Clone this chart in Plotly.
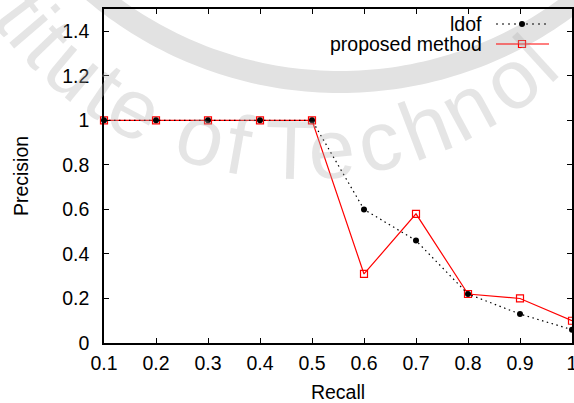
import math
import plotly.graph_objects as go

# Precision / recall values for the two methods
recall = [0.1, 0.2, 0.3, 0.4, 0.5, 0.6, 0.7, 0.8, 0.9, 1.0]
ldof = [1.0, 1.0, 1.0, 1.0, 1.0, 0.60, 0.46, 0.22, 0.13, 0.06]
proposed = [1.0, 1.0, 1.0, 1.0, 1.0, 0.31, 0.58, 0.22, 0.20, 0.10]

series_names = ["ldof", "proposed method"]

x_tickvals = [0.1, 0.2, 0.3, 0.4, 0.5, 0.6, 0.7, 0.8, 0.9, 1.0]
x_ticktext = ["0.1", "0.2", "0.3", "0.4", "0.5", "0.6", "0.7", "0.8", "0.9", "1"]
y_tickvals = [0, 0.2, 0.4, 0.6, 0.8, 1.0, 1.2, 1.4]
y_ticktext = ["0", "0.2", "0.4", "0.6", "0.8", "1", "1.2", "1.4"]

W, H = 574, 403
L, R, T, B = 104, 572, 9, 343
FONT = "Liberation Sans, Arial, sans-serif"
FS = 19.5


def px(x):
    return (x - L) / (R - L)


def py(y):
    return (B - y) / (B - T)


fig = go.Figure()

# data series
fig.add_trace(go.Scatter(
    x=recall, y=proposed, mode="lines+markers", name=series_names[1],
    line=dict(color="#ff0000", width=1.2),
    marker=dict(symbol="square-open", size=7, color="#ff0000",
                line=dict(width=1.2, color="#ff0000")),
    showlegend=False, cliponaxis=False,
))
fig.add_trace(go.Scatter(
    x=recall, y=ldof, mode="lines+markers", name=series_names[0],
    line=dict(color="#000000", width=1.2, dash="1.5px,3.5px"),
    marker=dict(symbol="circle", size=6, color="#000000"),
    showlegend=False, cliponaxis=False,
))

# key samples, drawn on an overlay axis spanning the plot area in [0, 1]
key_x0, key_x1, key_xm = px(496), px(549), px(522)
key_y = [py(24), py(44)]
fig.add_trace(go.Scatter(
    x=[key_x0, key_x1], y=[key_y[0]] * 2, mode="lines",
    line=dict(color="#000000", width=1.2, dash="2px,4px"),
    xaxis="x2", yaxis="y2", showlegend=False, hoverinfo="skip",
))
fig.add_trace(go.Scatter(
    x=[key_xm], y=[key_y[0]], mode="markers",
    marker=dict(symbol="circle", size=6, color="#000000"),
    xaxis="x2", yaxis="y2", showlegend=False, hoverinfo="skip",
))
fig.add_trace(go.Scatter(
    x=[key_x0, key_x1], y=[key_y[1]] * 2, mode="lines",
    line=dict(color="#ff0000", width=1.2),
    xaxis="x2", yaxis="y2", showlegend=False, hoverinfo="skip",
))
fig.add_trace(go.Scatter(
    x=[key_xm], y=[key_y[1]], mode="markers",
    marker=dict(symbol="square-open", size=7, color="#ff0000",
                line=dict(width=1.2, color="#ff0000")),
    xaxis="x2", yaxis="y2", showlegend=False, hoverinfo="skip",
))

annotations = []
for name, yk in zip(series_names, key_y):
    annotations.append(dict(
        text=name, xref="paper", yref="paper", x=px(484), y=yk,
        xanchor="right", yanchor="middle", showarrow=False,
        font=dict(family=FONT, size=FS, color="#000000"),
    ))

# watermark: faint lettering on an arc, plus a broad arc band
wm_cx, wm_cy, wm_r = 300, -200, 350
wm_letters = [("t", -53), ("i", -49.5), ("t", -46), ("u", -40), ("t", -34),
              ("e", -28), ("o", -16.4), ("f", -10),
              ("T", -1.5), ("e", 5.2), ("c", 13), ("h", 21), ("n", 28.6),
              ("o", 37), ("l", 42.5)]
for ch, ang in wm_letters:
    a = math.radians(ang)
    lx = wm_cx + wm_r * math.sin(a)
    ly = wm_cy + wm_r * math.cos(a)
    annotations.append(dict(
        text=ch, xref="paper", yref="paper", x=px(lx), y=py(ly),
        xanchor="center", yanchor="middle", showarrow=False, textangle=-ang,
        font=dict(family=FONT, size=84, color="rgba(175,175,175,0.32)"),
    ))

band_cx, band_cy, band_r = 340, -300, 382
pts = []
for k in range(0, 121):
    a = math.radians(-60 + k)
    bx = band_cx + band_r * math.sin(a)
    by = band_cy + band_r * math.cos(a)
    pts.append(f"{px(bx):.5f},{py(by):.5f}")
band_path = "M " + " L ".join(pts)

fig.add_shape(type="path", path=band_path, xref="paper", yref="paper",
              line=dict(color="rgb(226,226,226)", width=22), layer="below")

axis_common = dict(
    showline=True, linecolor="#000000", linewidth=1.5, mirror="allticks",
    ticks="inside", ticklen=5, tickwidth=1, tickcolor="#000000",
    showgrid=False, zeroline=False,
    tickfont=dict(family=FONT, size=FS, color="#000000"),
)

fig.update_layout(
    width=W, height=H,
    margin=dict(l=L, r=W - R, t=T, b=H - B, autoexpand=False),
    paper_bgcolor="white", plot_bgcolor="rgba(0,0,0,0)",
    xaxis=dict(range=[0.1, 1.0], tickvals=x_tickvals, ticktext=x_ticktext,
               ticklabelstandoff=2, ticklabeloverflow="allow",
               title=dict(text="Recall", standoff=15,
                          font=dict(family=FONT, size=FS, color="#000000")),
               **axis_common),
    yaxis=dict(range=[0, 1.5], tickvals=y_tickvals, ticktext=y_ticktext,
               ticklabelstandoff=9,
               title=dict(text="Precision", standoff=28,
                          font=dict(family=FONT, size=FS, color="#000000")),
               **axis_common),
    xaxis2=dict(range=[0, 1], overlaying="x", visible=False),
    yaxis2=dict(range=[0, 1], overlaying="y", visible=False),
    annotations=annotations,
    showlegend=False,
)

fig.write_html("out.html")
